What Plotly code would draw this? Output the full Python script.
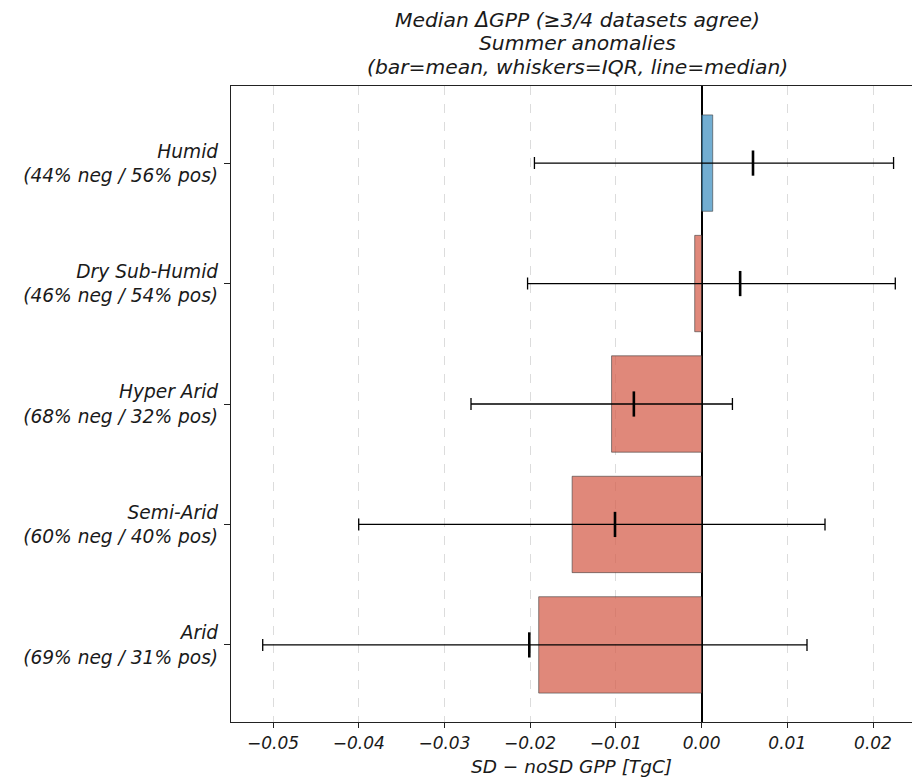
import plotly.graph_objects as go

categories = ["Arid", "Semi-Arid", "Hyper Arid", "Dry Sub-Humid", "Humid"]
neg_pct = [69, 60, 68, 46, 44]
pos_pct = [31, 40, 32, 54, 56]
mean_vals = [-0.0190, -0.0151, -0.0105, -0.0008, 0.0013]
median_vals = [-0.0201, -0.0101, -0.0079, 0.0045, 0.0060]
q25_vals = [-0.0512, -0.0400, -0.0269, -0.0203, -0.0195]
q75_vals = [0.0123, 0.0144, 0.0036, 0.0226, 0.0224]
title_lines = [
    "Median ΔGPP (≥3/4 datasets agree)",
    "Summer anomalies",
    "(bar=mean, whiskers=IQR, line=median)",
]

labels = [f"{c}<br>({n}% neg / {p}% pos)" for c, n, p in zip(categories, neg_pct, pos_pct)]
ypos = list(range(len(categories)))

POS_COLOR = "rgba(67,147,195,0.75)"
NEG_COLOR = "rgba(214,96,77,0.75)"
bar_colors = [POS_COLOR if v >= 0 else NEG_COLOR for v in mean_vals]

FONT = "DejaVu Sans"
TXT = "#1a1a1a"

fig = go.Figure()
fig.add_trace(go.Bar(
    y=ypos, x=mean_vals, orientation="h", width=0.8,
    marker=dict(color=bar_colors, line=dict(color="rgba(60,60,60,0.6)", width=1)),
    showlegend=False, hoverinfo="skip",
))
fig.add_trace(go.Scatter(
    y=ypos, x=median_vals, mode="markers",
    marker=dict(symbol="line-ns-open", size=18, line=dict(color="black", width=2.6), color="black"),
    error_x=dict(
        type="data", symmetric=False,
        array=[q75 - m for q75, m in zip(q75_vals, median_vals)],
        arrayminus=[m - q25 for q25, m in zip(q25_vals, median_vals)],
        color="black", thickness=1.3, width=6,
    ),
    showlegend=False, hoverinfo="skip",
))

# title as three stacked lines (pixel offsets above the plot area top at 86 px)
plot_h = 781 - 86 - 59
for i, line in enumerate(title_lines):
    ypx = 20 + 23.5 * i
    fig.add_annotation(
        text=f"<i>{line}</i>", xref="paper", yref="paper",
        x=(577 - 231) / (912 - 231), y=1 + (86 - ypx) / plot_h,
        xanchor="center", yanchor="middle", showarrow=False,
        font=dict(family=FONT, size=20.3, color=TXT),
    )

fig.update_layout(
    width=912, height=781,
    margin=dict(l=231, r=0, t=86, b=59),
    paper_bgcolor="white", plot_bgcolor="white",
    font=dict(family=FONT, size=16, color=TXT),
    bargap=0.2,
)
fig.update_xaxes(
    range=[-0.0549, 0.02455],
    tickformat=".2f", dtick=0.01, tick0=0,
    ticks="outside", ticklen=5, tickcolor="#222", tickwidth=1,
    tickfont=dict(family=FONT, size=17, style="italic", color=TXT),
    showline=True, linecolor="#222", linewidth=1.3, mirror=True,
    showgrid=True, gridcolor="#dcdcdc", griddash="dash", gridwidth=1,
    zeroline=True, zerolinecolor="black", zerolinewidth=1.5,
    title=dict(text="<i>SD − noSD GPP [TgC]</i>", font=dict(family=FONT, size=18.5, color=TXT), standoff=8),
)
fig.update_yaxes(
    range=[-0.64, 4.64],
    tickvals=ypos, ticktext=labels,
    ticks="outside", ticklen=6, tickcolor="#222", tickwidth=1,
    ticklabelstandoff=2,
    tickfont=dict(family=FONT, size=18.6, style="italic", color=TXT),
    showline=True, linecolor="#222", linewidth=1.3, mirror=False,
    showgrid=False, zeroline=False,
)

fig.write_html("out.html")
